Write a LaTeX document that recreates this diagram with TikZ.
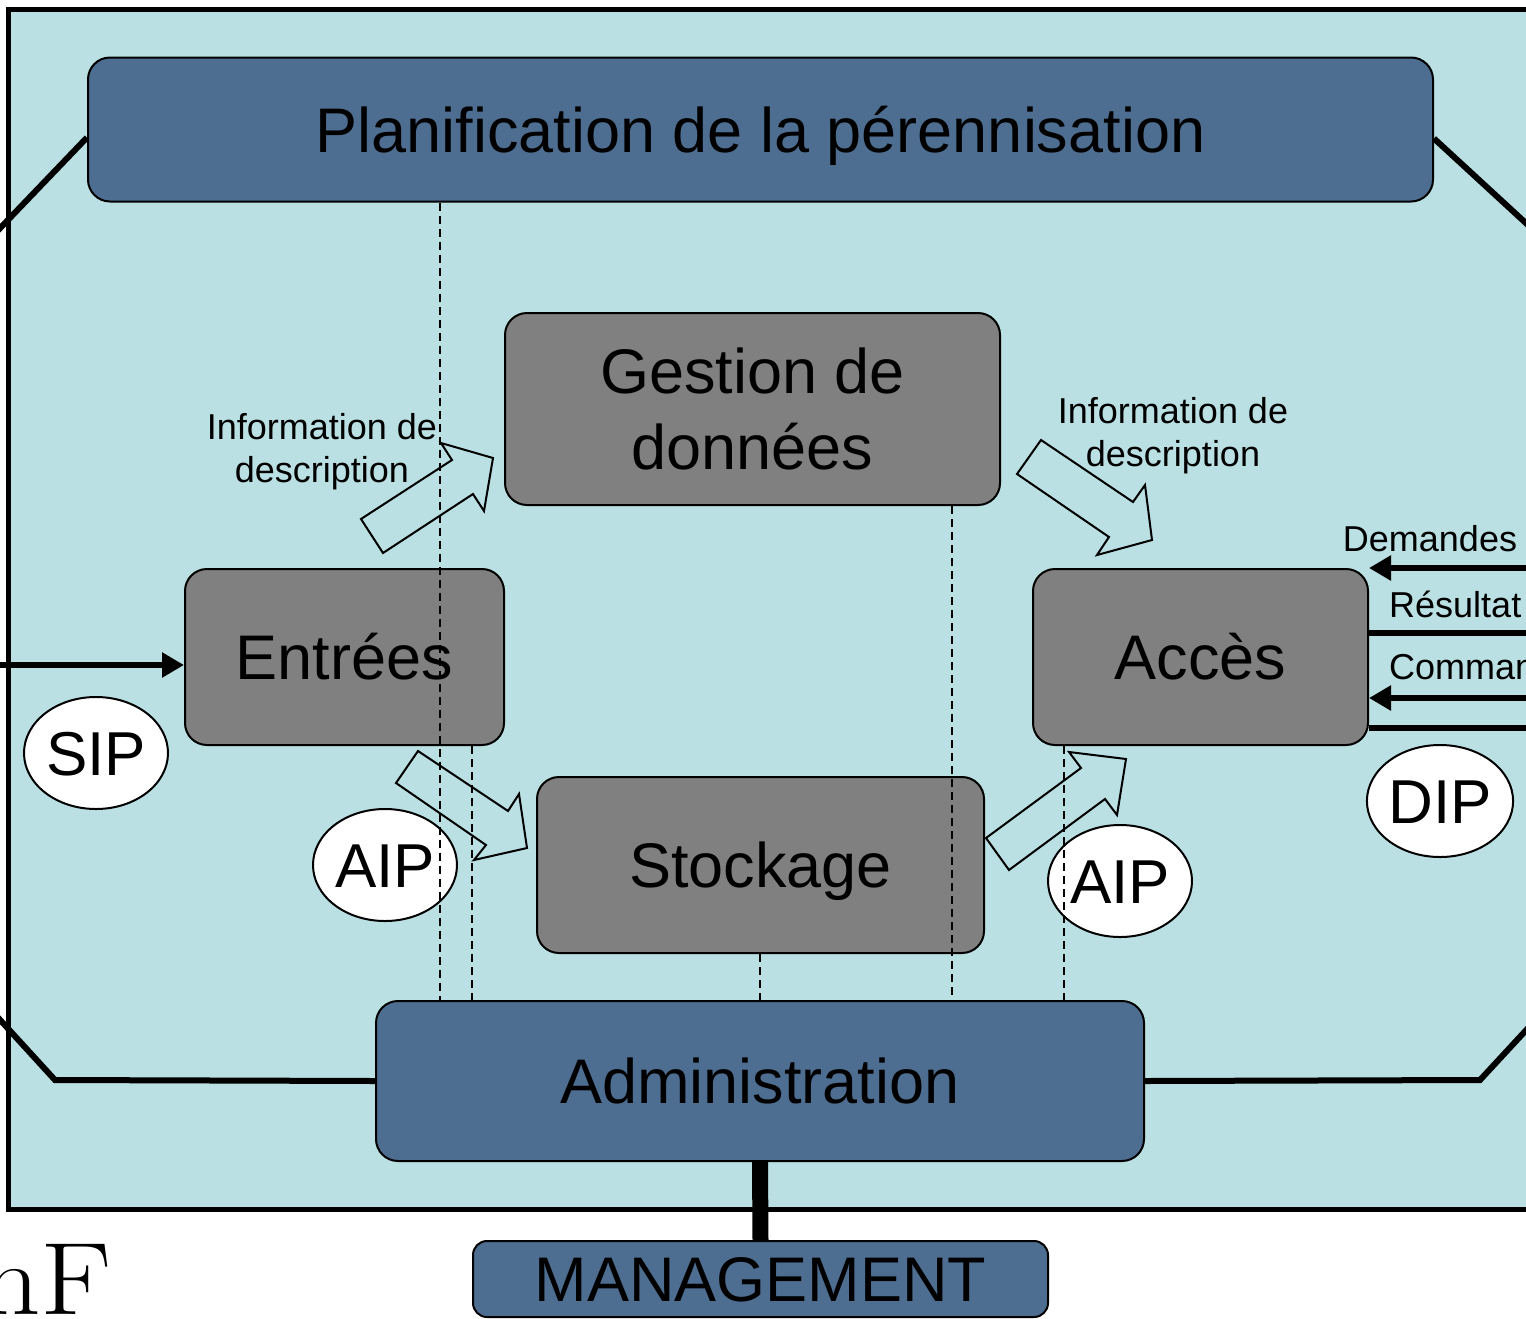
\documentclass[tikz,border=0pt]{standalone}
\usepackage{fontspec}
\newfontfamily\arial{Liberation Sans}
\usetikzlibrary{arrows.meta,shapes.geometric}
\definecolor{bgblue}{HTML}{BAE0E3}
\definecolor{boxblue}{HTML}{4E6E91}
\definecolor{boxgray}{HTML}{808080}
\pgfdeclarelayer{bg}
\pgfsetlayers{bg,main}
\tikzset{
  basebox/.style={draw=black, line width=2pt, rounded corners=22pt, inner sep=0pt,
    font=\arial\fontsize{63}{76}\selectfont, align=center},
  oneline/.style={text height=45pt, text depth=0pt},
  bluebox/.style={basebox, fill=boxblue},
  graybox/.style={basebox, fill=boxgray},
  pkg/.style={ellipse, draw=black, line width=2pt, fill=white, inner sep=0pt,
    minimum width=144pt, minimum height=112pt, text height=44pt, text depth=0pt,
    font=\arial\fontsize{62}{62}\selectfont},
  small/.style={font=\arial\fontsize{36}{43}\selectfont, inner sep=0pt, align=center},
  octline/.style={line width=6pt, line join=miter},
  flowarrow/.style={line width=6pt, -{Triangle[length=22pt,width=24pt]}},
  dashline/.style={line width=1.5pt, dash pattern=on 8pt off 5pt},
  blockarrow/.style={draw=black, line width=2pt, line join=miter},
}
\begin{document}
\begin{tikzpicture}[x=1pt,y=-1pt]
\useasboundingbox (0,0) rectangle (1526,1318);
\clip (0,0) rectangle (1526,1318);

% boxes
\node[bluebox, oneline, minimum width=1345pt, minimum height=144pt] (plan) at (760.5,129.5) {Planification de la pérennisation};
\node[graybox, minimum width=495pt, minimum height=192pt] (gest) at (752.5,409) {Gestion de\\données};
\node[graybox, oneline, minimum width=319pt, minimum height=176pt] (entr) at (344.5,657) {Entrées};
\node[graybox, oneline, minimum width=335pt, minimum height=176pt] (acc) at (1200.5,657) {Accès};
\node[graybox, oneline, minimum width=447pt, minimum height=176pt] (stock) at (760.5,865) {Stockage};
\node[bluebox, oneline, minimum width=768pt, minimum height=160pt] (admin) at (760,1081) {Administration};
\node[bluebox, oneline, rounded corners=14pt, minimum width=575pt, minimum height=76pt] (mgmt) at (760.5,1279) {MANAGEMENT};

% background frame and octagon
\begin{pgfonlayer}{bg}
\clip (0,0) rectangle (1526,1318);
\fill[white] (0,0) rectangle (1526,1318);
\draw[line width=5pt, fill=bgblue] (8.5,9.5) rectangle (1528.5,1209);
\draw[octline] ([yshift=-8pt]plan.west) -- (-40,270) -- (-40,976) -- (55,1080) -- (admin.west);
\draw[octline] ([yshift=-9pt]plan.east) -- (1566,260) -- (1566,987) -- (1480,1080) -- (admin.east);
\end{pgfonlayer}

\draw[line width=16pt] (admin.south) -- (mgmt.north);

% block arrows
\draw[blockarrow] (361,519) -- (452,460) -- (441,443) -- (493,458) -- (484,511) -- (473,494) -- (383,553) -- cycle;
\draw[blockarrow] (418,751) -- (508,811) -- (519,794) -- (527,848) -- (474,860) -- (486,845) -- (396,783) -- cycle;
\draw[blockarrow] (1041,440) -- (1133,502) -- (1145,485) -- (1152,540) -- (1097,555) -- (1109,537) -- (1017,474) -- cycle;
\draw[blockarrow] (986,838) -- (1081,768) -- (1069,752) -- (1126,759) -- (1117,815) -- (1105,799) -- (1009,870) -- cycle;

% information packages
\node[pkg] (sip) at (96,753) {SIP};
\node[pkg] (aipa) at (385,865) {AIP};
\node[pkg] (aipb) at (1120,881) {AIP};
\node[pkg] (dip) at (1440,801) {DIP};

% labels
\node[small] (infoa) at (322,452) {Information de\\description};
\node[small] (infob) at (1173,436) {Information de\\description};
\node[small] (dem) at (1430,539) {Demandes};
\node[small, anchor=west] (res) at (1389,604) {Résultat};
\node[small, anchor=west] (com) at (1389,667) {Comman};

% flows
\coordinate (lin) at (-5,665);
\draw[flowarrow] (lin) -- (lin -| entr.west);
\coordinate (ra) at (1530,568);
\coordinate (rb) at (1530,633);
\coordinate (rc) at (1530,698);
\coordinate (rd) at (1530,728);
\draw[flowarrow] (ra) -- (ra -| acc.east);
\draw[line width=6pt] (rb) -- (rb -| acc.east);
\draw[flowarrow] (rc) -- (rc -| acc.east);
\draw[line width=6pt] (rd) -- (rd -| acc.east);

% dashed lines
\coordinate (xa) at (440,0);
\coordinate (xb) at (472,0);
\coordinate (xc) at (760,0);
\coordinate (xd) at (952,0);
\coordinate (xe) at (1064,0);
\draw[dashline] (plan.south -| xa) -- (admin.north -| xa);
\draw[dashline] (entr.south -| xb) -- (admin.north -| xb);
\draw[dashline] (stock.south -| xc) -- (admin.north -| xc);
\draw[dashline] (gest.south -| xd) -- (admin.north -| xd);
\draw[dashline] (acc.south -| xe) -- (admin.north -| xe);

% cut-off text at the bottom left
\node[anchor=base west, inner sep=0pt, xscale=1.15, font=\fontsize{103}{103}\selectfont] (nf) at (-20,1314) {nF};
\end{tikzpicture}
\end{document}
